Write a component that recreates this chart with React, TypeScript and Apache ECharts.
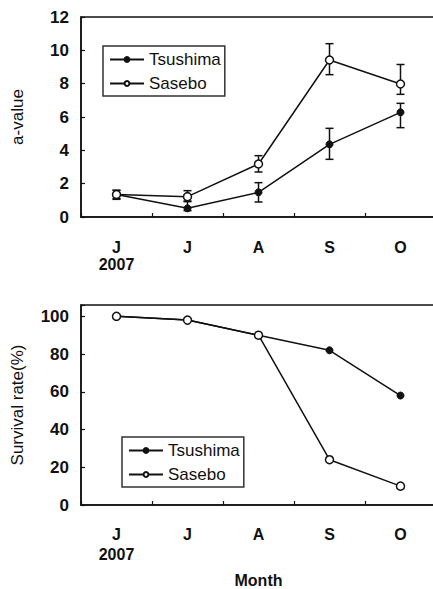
import React, { useEffect, useRef } from "react";
import * as echarts from "echarts";

const categories = ["J\n2007", "J", "A", "S", "O"];
const seriesNames = ["Tsushima", "Sasebo"];

// Top panel: a-value
const tsushimaA = [1.35, 0.52, 1.48, 4.36, 6.28];
const saseboA = [1.35, 1.22, 3.18, 9.42, 7.98];
const tsushimaLow = [1.1, 0.38, 0.9, 3.46, 5.36];
const tsushimaHigh = [1.6, 0.96, 2.06, 5.32, 6.82];
const saseboLow = [1.06, 0.92, 2.7, 8.54, 7.36];
const saseboHigh = [1.6, 1.58, 3.68, 10.4, 9.15];

// Bottom panel: survival rate (%)
const tsushimaSurv = [100, 98, 90, 82, 58];
const saseboSurv = [100, 98, 90, 24, 10];

const topTicks = { min: 0, max: 12, interval: 2 };
const bottomTicks = { min: 0, max: 106, interval: 20 };

const FONT = "'Liberation Sans', Arial, sans-serif";

function errData(lo: number[], hi: number[]) {
  return lo.map((l, i) => [i, l, hi[i]]);
}

const renderErr = (params: any, api: any) => {
  const x = api.value(0);
  const lo = api.coord([x, api.value(1)]);
  const hi = api.coord([x, api.value(2)]);
  const cx = lo[0];
  const hw = 4;
  const style = { stroke: "#111", lineWidth: 1.5 };
  return {
    type: "group",
    children: [
      { type: "line", shape: { x1: cx, y1: lo[1], x2: cx, y2: hi[1] }, style },
      { type: "line", shape: { x1: cx - hw, y1: lo[1], x2: cx + hw, y2: lo[1] }, style },
      { type: "line", shape: { x1: cx - hw, y1: hi[1], x2: cx + hw, y2: hi[1] }, style },
    ],
  };
};

export default function App() {
  const ref = useRef<HTMLDivElement>(null);
  useEffect(() => {
    if (!ref.current) return;
    const chart = echarts.init(ref.current, null, { renderer: "svg" });
    const xAxisBase = (lineHeight: number, margin: number) => ({
      type: "category",
      data: categories,
      boundaryGap: true,
      axisLine: { show: true, lineStyle: { color: "#111", width: 1.5 } },
      axisTick: { show: true, inside: true, length: 4, lineStyle: { color: "#111", width: 1.2 } },
      axisLabel: {
        color: "#111",
        fontFamily: FONT,
        fontWeight: "bold",
        fontSize: 16,
        lineHeight,
        margin,
      },
      splitLine: { show: false },
    });
    const yAxisBase = (t: any, name: string, nameGap: number) => ({
      type: "value",
      min: t.min,
      max: t.max,
      interval: t.interval,
      name,
      nameLocation: "middle",
      nameGap,
      nameTextStyle: { color: "#111", fontFamily: FONT, fontSize: 17 },
      axisLine: { show: true, lineStyle: { color: "#111", width: 1.5 } },
      axisTick: { show: true, inside: true, length: 4, lineStyle: { color: "#111", width: 1.2 } },
      axisLabel: {
        color: "#111",
        fontFamily: FONT,
        fontWeight: "bold",
        fontSize: 17,
        margin: 12,
        formatter: (v: number) => (v % t.interval === 0 ? String(v) : ""),
      },
      splitLine: { show: false },
    });
    const legendBase = (left: number, top: number) => ({
      data: seriesNames,
      orient: "vertical",
      left,
      top,
      itemWidth: 34,
      itemHeight: 6,
      itemGap: 7,
      padding: [5, 4, 4, 6],
      borderColor: "#333",
      borderWidth: 1.5,
      backgroundColor: "#fff",
      selectedMode: false,
      textStyle: { color: "#111", fontFamily: FONT, fontSize: 17 },
    });
    const lineStyle = { color: "#111", width: 1.5 };
    const filled = {
      type: "line",
      symbol: "circle",
      symbolSize: 7,
      itemStyle: { color: "#111", borderColor: "#111", borderWidth: 1 },
      lineStyle,
      z: 3,
    };
    const open = {
      type: "line",
      symbol: "circle",
      symbolSize: 8,
      itemStyle: { color: "#fff", borderColor: "#111", borderWidth: 1.5 },
      lineStyle,
      z: 4,
    };
    const gridBase = {
      left: 81,
      width: 355,
      height: 200,
      show: true,
      borderColor: "#111",
      borderWidth: 1.5,
      backgroundColor: "transparent",
      containLabel: false,
      outerBoundsMode: "none",
    };
    chart.setOption({
      animation: false,
      backgroundColor: "#fff",
      grid: [
        { ...gridBase, top: 17 },
        { ...gridBase, top: 305 },
      ],
      xAxis: [
        { ...xAxisBase(17, 22), gridIndex: 0 },
        {
          ...xAxisBase(20, 19),
          gridIndex: 1,
          name: "Month",
          nameLocation: "middle",
          nameGap: 67,
          nameTextStyle: { color: "#111", fontFamily: FONT, fontSize: 16, fontWeight: "bold" },
        },
      ],
      yAxis: [
        { ...yAxisBase(topTicks, "a-value", 55), gridIndex: 0 },
        { ...yAxisBase(bottomTicks, "Survival rate(%)", 55), gridIndex: 1 },
      ],
      legend: [legendBase(103, 46), legendBase(122, 437)],
      series: [
        {
          type: "custom",
          name: "err-t",
          xAxisIndex: 0,
          yAxisIndex: 0,
          renderItem: renderErr,
          data: errData(tsushimaLow, tsushimaHigh),
          encode: { x: 0, y: [1, 2] },
          z: 2,
        },
        {
          type: "custom",
          name: "err-s",
          xAxisIndex: 0,
          yAxisIndex: 0,
          renderItem: renderErr,
          data: errData(saseboLow, saseboHigh),
          encode: { x: 0, y: [1, 2] },
          z: 2,
        },
        { ...filled, name: "Tsushima", xAxisIndex: 0, yAxisIndex: 0, data: tsushimaA },
        { ...open, name: "Sasebo", xAxisIndex: 0, yAxisIndex: 0, data: saseboA },
        { ...filled, name: "Tsushima", xAxisIndex: 1, yAxisIndex: 1, data: tsushimaSurv },
        { ...open, name: "Sasebo", xAxisIndex: 1, yAxisIndex: 1, data: saseboSurv },
      ],
    });
    return () => chart.dispose();
  }, []);
  return (
    <div
      ref={ref}
      style={{ position: "absolute", left: 0, top: 0, width: 433, height: 589, background: "#fff" }}
    />
  );
}
